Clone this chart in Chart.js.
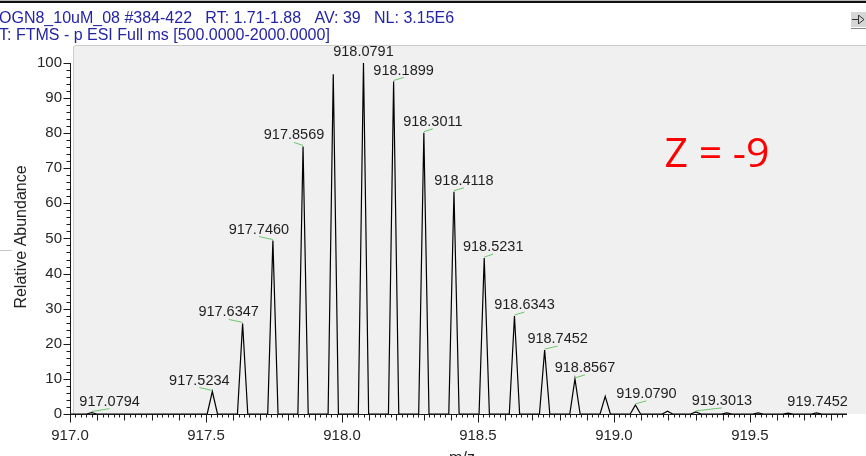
<!DOCTYPE html>
<html>
<head>
<meta charset="utf-8">
<script src="https://cdn.jsdelivr.net/npm/chart.js@4/dist/chart.umd.min.js"></script>
<style>
  html, body { margin: 0; padding: 0; background: #fff; overflow: hidden; }
  #spectrum { display: block; }
</style>
</head>
<body>
<canvas id="spectrum" width="866" height="456"></canvas>
<script>
// Isotope envelope: centroid m/z and relative abundance of each peak
const peakMz = [917.0794, 917.5234, 917.6347, 917.7460, 917.8569, 917.9680, 918.0791, 918.1899,
  918.3011, 918.4118, 918.5231, 918.6343, 918.7452, 918.8567, 918.9680, 919.0790,
  919.1970, 919.3013, 919.4150, 919.5300, 919.6400, 919.7452];
const peakHeight = [0.4, 6.4, 25.8, 49.4, 76.2, 96.8, 100, 94.7,
  80.1, 63.3, 44.4, 27.9, 18.2, 10.0, 5.0, 2.6,
  0.8, 0.6, 0.3, 0.3, 0.25, 0.3];
// peaks that get an m/z annotation
const peakLabelled = [true, true, true, true, true, false, true, true,
  true, true, true, true, true, true, false, true,
  false, true, false, false, false, true];

const xTickValues = [917.0, 917.5, 918.0, 918.5, 919.0, 919.5];
const yTickValues = [0, 10, 20, 30, 40, 50, 60, 70, 80, 90, 100];

const headerLines = [
  'OGN8_10uM_08 #384-422   RT: 1.71-1.88   AV: 39   NL: 3.15E6',
  'T: FTMS - p ESI Full ms [500.0000-2000.0000]'
];
const chargeText = 'Z = -9';

const xMin = 917.0, xMax = 919.857;
const yMin = 0, yMax = 105.1;
const peakHalfWidth = 0.019;

// profile trace: baseline with a narrow peak at each centroid
const spectrum = [{ x: xMin, y: 0 }];
peakMz.forEach((mz, i) => {
  spectrum.push({ x: mz - peakHalfWidth, y: 0 });
  spectrum.push({ x: mz, y: peakHeight[i] });
  spectrum.push({ x: mz + peakHalfWidth, y: 0 });
});
spectrum.push({ x: xMax, y: 0 });

const FONT = '"Liberation Sans", Arial, sans-serif';

// frame, header text and window chrome behind the plot
const backdrop = {
  id: 'backdrop',
  beforeDraw(chart) {
    const { ctx, chartArea } = chart;
    const w = chart.width;
    ctx.save();
    ctx.fillStyle = '#ffffff';
    ctx.fillRect(0, 0, w, chart.height);

    ctx.fillStyle = '#b8b8b8';
    ctx.fillRect(0, 0, w, 1);
    ctx.fillStyle = '#111111';
    ctx.fillRect(0, 1, w, 2);

    // plot panel
    const left = chartArea.left + 3, top = chartArea.top;
    ctx.fillStyle = '#f0f0f0';
    ctx.beginPath();
    ctx.moveTo(left, chartArea.bottom);
    ctx.lineTo(left, top + 3);
    ctx.quadraticCurveTo(left, top, left + 3, top);
    ctx.lineTo(w, top);
    ctx.lineTo(w, chartArea.bottom);
    ctx.closePath();
    ctx.fill();
    ctx.strokeStyle = '#cdcdcd';
    ctx.lineWidth = 1;
    ctx.beginPath();
    ctx.moveTo(left + 0.5, chartArea.bottom);
    ctx.lineTo(left + 0.5, top + 3);
    ctx.quadraticCurveTo(left + 0.5, top + 0.5, left + 3, top + 0.5);
    ctx.lineTo(w, top + 0.5);
    ctx.stroke();

    // splitter stub on the left edge
    ctx.fillStyle = '#c8c8c8';
    ctx.fillRect(0, 250, 12, 1);

    // small pin icon, top right
    ctx.fillStyle = '#d6d6d6';
    ctx.fillRect(851, 12, 15, 15);
    ctx.strokeStyle = '#333';
    ctx.beginPath();
    ctx.moveTo(852, 19.5); ctx.lineTo(858, 19.5);
    ctx.moveTo(858.5, 15); ctx.lineTo(858.5, 24);
    ctx.moveTo(859, 15.5); ctx.lineTo(864, 19.5); ctx.lineTo(859, 23.5);
    ctx.stroke();
    ctx.strokeStyle = '#888';
    ctx.beginPath();
    ctx.moveTo(851, 28.5); ctx.lineTo(866, 28.5);
    ctx.stroke();

    // scan header
    ctx.fillStyle = '#2424a6';
    ctx.font = '16px ' + FONT;
    ctx.textBaseline = 'alphabetic';
    ctx.textAlign = 'left';
    ctx.fillText(headerLines[0], -1, 23);
    ctx.fillText(headerLines[1], -1, 40);
    ctx.restore();
  }
};

// tick marks, axis lines, titles and peak annotations
const annotations = {
  id: 'annotations',
  afterDatasetsDraw(chart, args, opts) {
    const { ctx, chartArea } = chart;
    const xs = chart.scales.x, ys = chart.scales.y;
    const axisY = Math.round(ys.getPixelForValue(0)) + 0.5;
    const axisX = Math.round(xs.getPixelForValue(xMin)) + 0.5;
    ctx.save();
    ctx.strokeStyle = '#1a1a1a';
    ctx.lineWidth = 1;
    ctx.beginPath();
    // axis lines
    ctx.moveTo(axisX, axisY);
    ctx.lineTo(axisX, Math.round(ys.getPixelForValue(100)));
    ctx.moveTo(axisX - 0.5, axisY);
    ctx.lineTo(chartArea.right, axisY);
    // y ticks every 2
    for (let v = 0; v <= 100; v += 2) {
      const py = Math.round(ys.getPixelForValue(v)) + 0.5;
      const len = v % 10 === 0 ? 7 : 4;
      ctx.moveTo(axisX - len, py);
      ctx.lineTo(axisX, py);
    }
    // x ticks every 0.02
    for (let i = 0; xMin + i * 0.02 <= xMax; i++) {
      const px = Math.round(xs.getPixelForValue(xMin + i * 0.02)) + 0.5;
      const len = i % 25 === 0 ? 8 : (i % 5 === 0 ? 6 : 3);
      ctx.moveTo(px, axisY);
      ctx.lineTo(px, axisY + len);
    }
    ctx.stroke();

    // axis titles
    ctx.fillStyle = '#222';
    ctx.font = '16px ' + FONT;
    ctx.textAlign = 'center';
    ctx.textBaseline = 'middle';
    ctx.save();
    ctx.translate(22, 237);
    ctx.rotate(-Math.PI / 2);
    ctx.fillText('Relative Abundance', 0, 0);
    ctx.restore();
    ctx.textBaseline = 'alphabetic';
    ctx.fillText('m/z', 462, 463);

    // peak labels with leader lines
    ctx.font = '14.5px ' + FONT;
    ctx.textBaseline = 'middle';
    peakMz.forEach((mz, i) => {
      if (!peakLabelled[i]) return;
      const px = xs.getPixelForValue(mz);
      const py = ys.getPixelForValue(peakHeight[i]);
      const dx = opts.shift[i] || 0;
      if (Math.abs(dx) > 2) {
        ctx.strokeStyle = '#6cc86c';
        ctx.beginPath();
        ctx.moveTo(px, py - 1);
        ctx.lineTo(px + dx, py - 4);
        ctx.stroke();
      }
      ctx.fillStyle = '#1e1e1e';
      ctx.fillText(mz.toFixed(4), px + dx, py - 11);
    });

    // charge state note
    ctx.fillStyle = '#ff0000';
    ctx.font = '41px "Open Sans", "Noto Sans", sans-serif';
    ctx.textAlign = 'center';
    ctx.fillText(chargeText, 717, 155);
    ctx.restore();
  }
};

new Chart(document.getElementById('spectrum'), {
  type: 'line',
  data: {
    datasets: [{
      data: spectrum,
      borderColor: '#000000',
      borderWidth: 1.2,
      pointRadius: 0,
      tension: 0,
      fill: false
    }]
  },
  options: {
    responsive: false,
    animation: false,
    events: [],
    layout: { padding: { top: 45, right: 19, left: 0, bottom: 0 } },
    plugins: {
      legend: { display: false },
      tooltip: { enabled: false },
      annotations: {
        shift: [18, -13, -14, -14, -9, 0, 0, 10, 9, 10, 9, 10, 13, 10, 0, 11, 0, 26, 0, 0, 0, 1]
      }
    },
    scales: {
      x: {
        type: 'linear',
        min: xMin,
        max: xMax,
        afterFit: s => { s.height = 42; },
        afterBuildTicks: s => { s.ticks = xTickValues.map(v => ({ value: v })); },
        grid: { display: false, drawTicks: false },
        border: { display: false },
        ticks: {
          padding: 13,
          color: '#262626',
          font: { family: FONT, size: 15 },
          maxRotation: 0,
          callback: v => v.toFixed(1)
        }
      },
      y: {
        type: 'linear',
        min: yMin,
        max: yMax,
        afterFit: s => { s.width = 70; },
        afterBuildTicks: s => { s.ticks = yTickValues.map(v => ({ value: v })); },
        grid: { display: false, drawTicks: false },
        border: { display: false },
        ticks: {
          padding: 8,
          color: '#262626',
          font: { family: FONT, size: 15 }
        }
      }
    }
  },
  plugins: [backdrop, annotations]
});
</script>
</body>
</html>
